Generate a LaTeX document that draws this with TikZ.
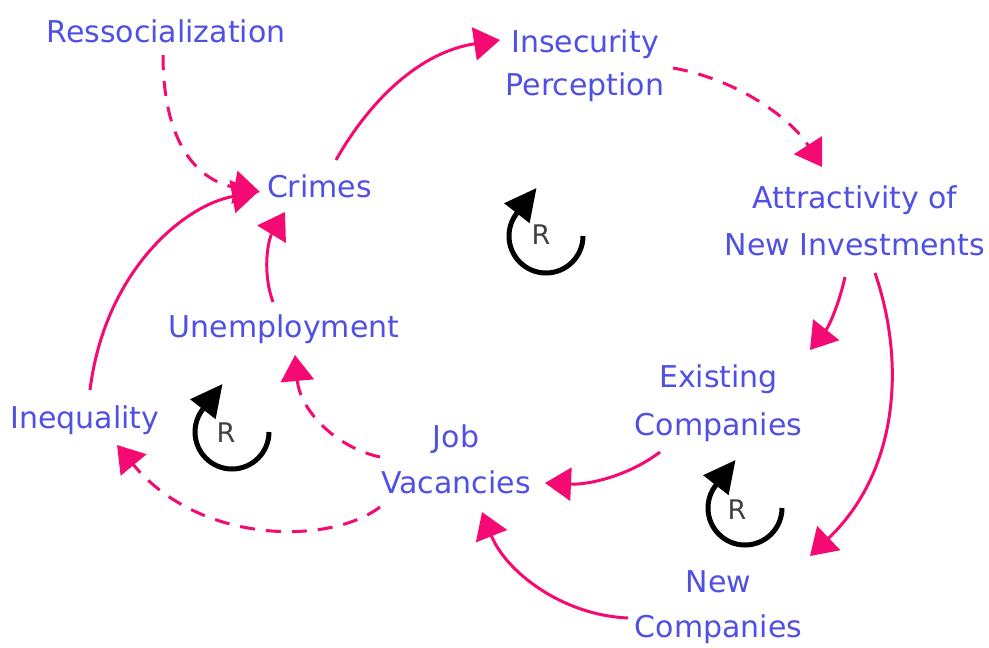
\documentclass[tikz,border=0pt]{standalone}
\usepackage{fontspec}
\setmainfont{DejaVu Sans}
\usetikzlibrary{arrows.meta,calc}
\definecolor{txtblue}{RGB}{80,80,228}
\definecolor{linkpink}{RGB}{245,10,115}
\newcommand\sr{\rule[-8pt]{0pt}{32pt}}
\begin{document}
\begin{tikzpicture}[x=1pt,y=1pt,
  lbl/.style={font=\fontsize{30}{46}\selectfont, text=txtblue, align=center, inner sep=0pt},
  link/.style={draw=linkpink, line width=3pt, -{Triangle[length=26pt,width=33pt]}},
  dlink/.style={link, dash pattern=on 15pt off 11pt},
  loopar/.style={draw=black, line width=5pt, -{Triangle[length=32pt,width=31pt]}},
  looplbl/.style={font=\fontsize{27}{27}\selectfont, text=black!75, inner sep=0pt}]
\fill[white] (0,0) rectangle (989,-648);
\useasboundingbox (0,0) rectangle (989,-648);

% variables
\node[lbl] (ress)   at (166,-34)    {\sr Ressocialization};
\node[lbl] (crimes) at (319.5,-189) {\sr Crimes};
\node[lbl, font=\fontsize{30}{43}\selectfont] (insec) at (585,-65.5) {\sr Insecurity\\\sr Perception};
\node[lbl, font=\fontsize{30}{47}\selectfont] (attr)  at (855,-223.5) {\sr Attractivity of\\\sr New Investments};
\node[lbl] (unemp)  at (284,-329)   {\sr Unemployment};
\node[lbl] (ineq)   at (85,-420)    {\sr Inequality};
\node[lbl] (jobv)   at (456,-462)   {\sr Job\\\sr Vacancies};
\node[lbl, font=\fontsize{30}{48}\selectfont] (exist) at (718.5,-403) {\sr Existing\\\sr Companies};
\node[lbl, font=\fontsize{30}{45}\selectfont] (newc)   at (718.5,-607) {\sr New\\\sr Companies};

% links
\draw[dlink] ($(ress)+(-3,-21)$) .. controls (163,-140) and (195,-180) .. ($(crimes)+(-59.5,-3)$);
\draw[link]  ($(crimes)+(16.5,29)$) .. controls (370,-100) and (420,-52) .. ($(insec)+(-85,25.5)$);
\draw[dlink] ($(insec)+(88,-2.5)$) .. controls (740,-80) and (792,-120) .. ($(attr)+(-33,56.5)$);
\draw[link]  ($(attr)+(-10,-53.5)$) .. controls (840,-300) and (830,-325) .. ($(exist)+(91.5,53)$);
\draw[link]  ($(attr)+(20,-49.5)$) .. controls (905,-360) and (900,-470) .. ($(newc)+(91.5,51)$);
\draw[link]  ($(exist)+(-58.5,-49)$) .. controls (630,-475) and (590,-485) .. ($(jobv)+(89,-21)$);
\draw[link]  ($(newc)+(-90.5,-11)$) .. controls (560,-615) and (505,-570) .. ($(jobv)+(26,-50)$);
\draw[dlink] ($(jobv)+(-76,5)$) .. controls (335,-447) and (300,-410) .. ($(unemp)+(11,-26)$);
\draw[dlink] ($(jobv)+(-76,-45)$) .. controls (330,-545) and (200,-545) .. ($(ineq)+(32,-25)$);
\draw[link]  ($(ineq)+(5,30)$) .. controls (105,-270) and (185,-205) .. ($(crimes)+(-61.5,-3)$);
\draw[link]  ($(unemp)+(-11,27)$) .. controls (262,-272) and (268,-240) .. ($(crimes)+(-34.5,-23)$);

% loop markers
\coordinate (L1) at (546,-236);
\coordinate (L2) at (232,-432);
\coordinate (L3) at (745,-508);
\draw[loopar] (L1) ++(0:37) arc[start angle=0,end angle=-218,radius=37] -- ++(52:32);
\draw[loopar] (L2) ++(0:37) arc[start angle=0,end angle=-218,radius=37] -- ++(52:32);
\draw[loopar] (L3) ++(0:37) arc[start angle=0,end angle=-218,radius=37] -- ++(52:32);
\node[looplbl] (r1) at (541,-235) {R};
\node[looplbl] (r2) at (226,-433) {R};
\node[looplbl] (r3) at (737,-510) {R};
\end{tikzpicture}
\end{document}
